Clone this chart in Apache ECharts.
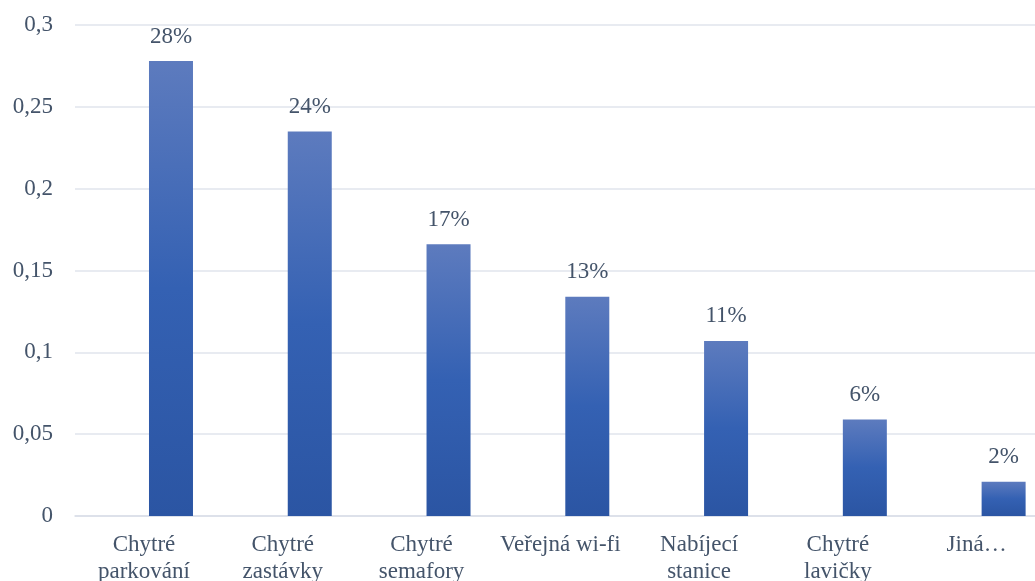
<!DOCTYPE html>
<html>
<head>
<meta charset="utf-8">
<script src="https://cdn.jsdelivr.net/npm/echarts@6/dist/echarts.min.js"></script>
<style>
html,body{margin:0;padding:0;background:#fff;}
#chart{width:1035px;height:581px;}
</style>
</head>
<body>
<div id="chart"></div>
<script>
const categories = ['Chytré\nparkování', 'Chytré\nzastávky', 'Chytré\nsemafory', 'Veřejná wi-fi', 'Nabíjecí\nstanice', 'Chytré\nlavičky', 'Jiná…'];
const values = [0.278, 0.235, 0.166, 0.134, 0.107, 0.059, 0.021];
const yTicks = { min: 0, max: 0.3, interval: 0.05 };

const FONT = "'Liberation Serif', 'Times New Roman', serif";
const TXT = '#44546A';
const FS = 23;
const chart = echarts.init(document.getElementById('chart'));
chart.setOption({
  animation: false,
  grid: [
    { left: 75, right: 0, top: 25, bottom: 65, outerBoundsMode: 'none', containLabel: false },
    { left: 101.6, right: -38, top: 25, bottom: 65, outerBoundsMode: 'none', containLabel: false }
  ],
  xAxis: [
    { gridIndex: 0, type: 'value', min: 0, max: 1,
      axisLine: { show: true, lineStyle: { color: '#D9DEE7', width: 1.5 } },
      axisTick: { show: false }, axisLabel: { show: false }, splitLine: { show: false } },
    { gridIndex: 1, type: 'category', data: categories,
      axisLine: { show: false }, axisTick: { show: false },
      axisLabel: { interval: 0, margin: 15, color: TXT, fontFamily: FONT, fontSize: FS, lineHeight: 27,
        padding: [0, 54, 0, 0] } }
  ],
  yAxis: [
    { gridIndex: 0, type: 'value', min: yTicks.min, max: yTicks.max, interval: yTicks.interval,
      axisLine: { show: false }, axisTick: { show: false },
      splitLine: { lineStyle: { color: '#E1E5EC', width: 1.5 } },
      axisLabel: { margin: 22, color: TXT, fontFamily: FONT, fontSize: FS,
        formatter: v => String(Number(v.toFixed(2))).replace('.', ',') } },
    { gridIndex: 1, type: 'value', min: yTicks.min, max: yTicks.max, show: false, splitLine: { show: false } }
  ],
  series: [{
    type: 'bar', xAxisIndex: 1, yAxisIndex: 1,
    data: values, barWidth: 44,
    itemStyle: {
      color: new echarts.graphic.LinearGradient(0, 0, 0, 1, [
        { offset: 0, color: '#5D7BBE' },
        { offset: 0.5, color: '#3461B3' },
        { offset: 1, color: '#2B55A3' }
      ])
    },
    label: { show: true, position: 'top', distance: 13, color: TXT, fontFamily: FONT, fontSize: FS,
      formatter: p => Math.round(p.value * 100) + '%' }
  }]
});
</script>
</body>
</html>
